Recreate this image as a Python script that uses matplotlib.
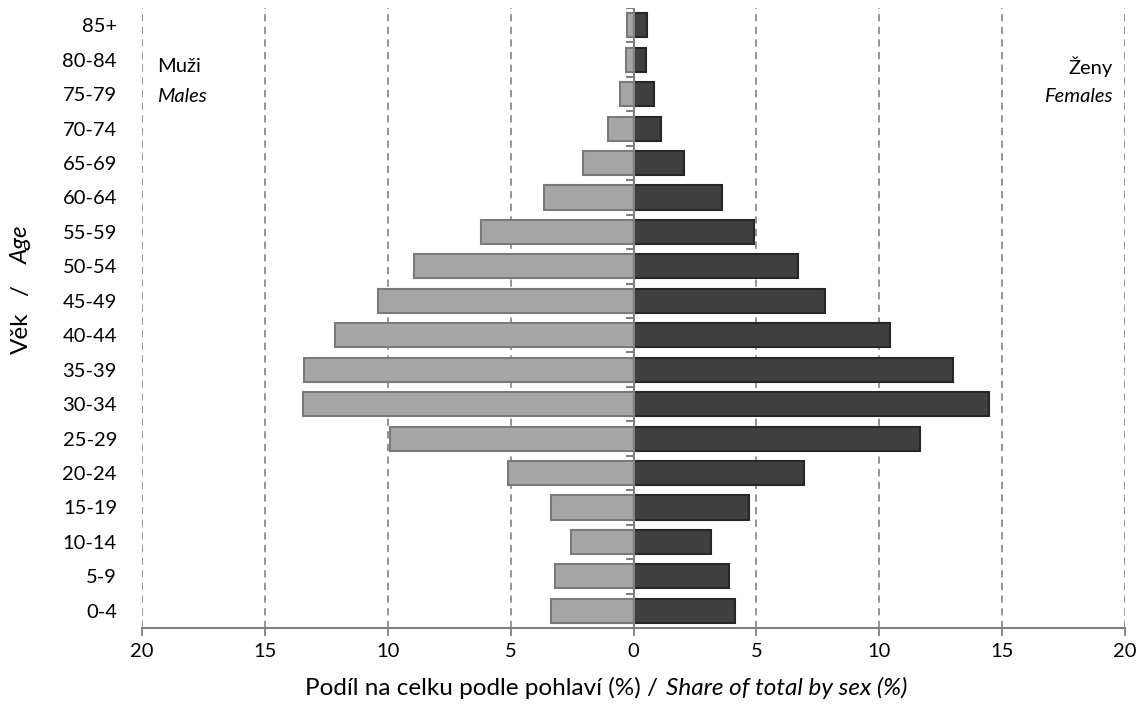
import matplotlib
matplotlib.use("Agg")
import matplotlib.pyplot as plt
import numpy as np

# age groups, bottom to top
ages = ['0-4', '5-9', '10-14', '15-19', '20-24', '25-29', '30-34', '35-39', '40-44',
        '45-49', '50-54', '55-59', '60-64', '65-69', '70-74', '75-79', '80-84', '85+']
males = [3.35, 3.2, 2.55, 3.35, 5.1, 9.9, 13.45, 13.4, 12.15,
         10.4, 8.95, 6.2, 3.65, 2.05, 1.05, 0.55, 0.3, 0.25]
females = [4.15, 3.9, 3.15, 4.7, 6.95, 11.65, 14.45, 13.0, 10.45,
           7.8, 6.7, 4.9, 3.6, 2.05, 1.1, 0.85, 0.5, 0.55]
xticks = [-20, -15, -10, -5, 0, 5, 10, 15, 20]

plt.rcParams['font.family'] = ['Lato', 'DejaVu Sans']
plt.rcParams['font.size'] = 14.5

fig = plt.figure(figsize=(11.46, 7.16), dpi=100)
ax = fig.add_axes([0.1239, 0.1229, 0.8578, 0.8659])

y = np.arange(len(ages))
ax.barh(y, -np.array(males), height=0.7, color='#a6a6a6', edgecolor='#7a7a7a',
        linewidth=1.5, zorder=3)
ax.barh(y, females, height=0.7, color='#404040', edgecolor='#262626',
        linewidth=1.5, zorder=3)

ax.set_xlim(-20, 20)
ax.set_ylim(-0.5, len(ages) - 0.5)

# dashed vertical grid
for xv in xticks:
    if xv != 0:
        ax.axvline(xv, color='#8c8c8c', linestyle=(0, (4, 3)), linewidth=1.3, zorder=1)

# center axis with small category ticks
ax.axvline(0, color='#808080', linewidth=1.5, zorder=4)
ax.hlines(np.arange(len(ages)) + 0.5, -0.3, 0, color='#808080', linewidth=1.5, zorder=4)

ax.set_xticks(xticks)
ax.set_xticklabels([str(abs(v)) for v in xticks])
ax.tick_params(axis='x', length=6, width=1.3, color='#808080', pad=5)
ax.set_yticks(y)
ax.set_yticklabels(ages)
ax.tick_params(axis='y', length=0, pad=18)

for s in ['top', 'right', 'left']:
    ax.spines[s].set_visible(False)
ax.spines['bottom'].set_color('#808080')
ax.spines['bottom'].set_linewidth(1.5)
ax.spines['bottom'].set_zorder(5)

ax.text(-19.4, 15.8, 'Muži', ha='left', va='center')
ax.text(-19.4, 14.92, 'Males', ha='left', va='center', style='italic')
ax.text(19.5, 15.8, 'Ženy', ha='right', va='center')
ax.text(19.5, 14.92, 'Females', ha='right', va='center', style='italic')

# axis titles with mixed styles
fig.text(664 / 1146, 1 - 688 / 716, 'Podíl na celku podle pohlaví (%) / ',
         ha='right', va='center', fontsize=17.5)
fig.text(666 / 1146, 1 - 688 / 716, 'Share of total by sex (%)',
         ha='left', va='center', style='italic', fontsize=17.5)
fig.text(21 / 1146, 1 - 333 / 716, 'Věk', rotation=90, ha='center', va='center',
         fontsize=17.5)
fig.text(21 / 1146, 1 - 290 / 716, '/', rotation=90, ha='center', va='center',
         fontsize=17.5)
fig.text(21 / 1146, 1 - 245 / 716, 'Age', rotation=90, ha='center', va='center',
         style='italic', fontsize=17.5)

fig.savefig('out.png', dpi=100, facecolor='white')
